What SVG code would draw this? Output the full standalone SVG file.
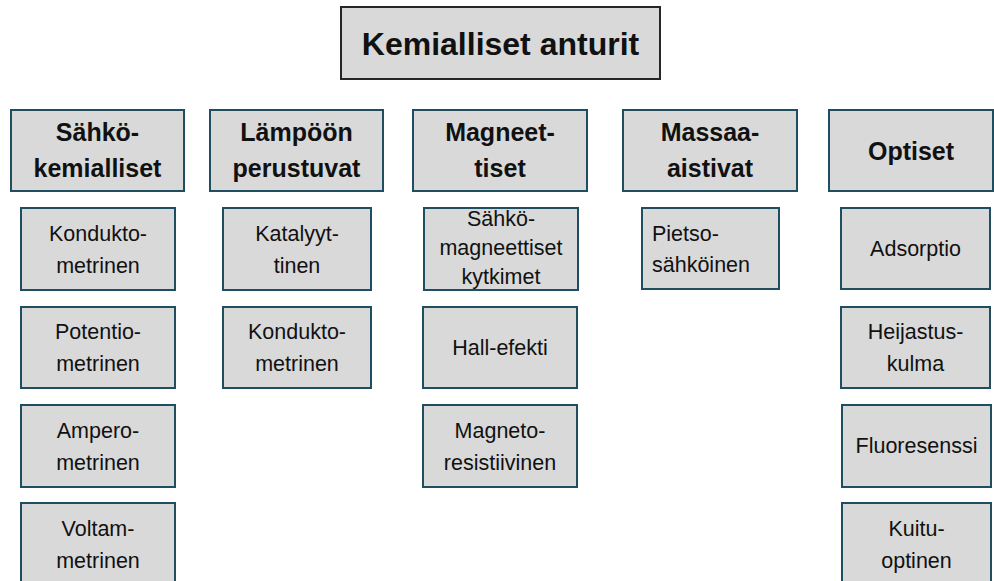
<svg xmlns="http://www.w3.org/2000/svg" width="994" height="581" viewBox="0 0 994 581">
<style>
  .bg { fill: #ffffff; }
  .box { fill: #d9d9d9; stroke: #1f4e60; stroke-width: 2; }
  .tbox { fill: #d9d9d9; stroke: #262626; stroke-width: 2; }
  text { font-family: "Liberation Sans", Arial, sans-serif; fill: #111111; }
  .title { font-size: 32px; font-weight: bold; text-anchor: middle; }
  .cat { font-size: 25px; font-weight: bold; text-anchor: middle; }
  .item { font-size: 21.5px; text-anchor: middle; }
  .iteml { font-size: 21.5px; text-anchor: start; }
</style>
<rect class="bg" x="0" y="0" width="994" height="581"/>
<g id="connectors"></g>
<g id="root">
  <rect class="tbox" x="341" y="7" width="319" height="72"/>
  <text class="title" x="500.5" y="55">Kemialliset anturit</text>
</g>
<g id="cat-sahkokemialliset">
  <rect class="box" x="11" y="110" width="173" height="81"/>
  <text class="cat" x="97.5" y="141">Sähkö-</text>
  <text class="cat" x="97.5" y="177">kemialliset</text>
</g>
<g id="cat-lampoon">
  <rect class="box" x="210" y="110" width="173" height="81"/>
  <text class="cat" x="296.5" y="141">Lämpöön</text>
  <text class="cat" x="296.5" y="177">perustuvat</text>
</g>
<g id="cat-magneettiset">
  <rect class="box" x="413" y="110" width="174" height="81"/>
  <text class="cat" x="500" y="141">Magneet-</text>
  <text class="cat" x="500" y="177">tiset</text>
</g>
<g id="cat-massaaistivat">
  <rect class="box" x="623" y="110" width="174" height="81"/>
  <text class="cat" x="710" y="141">Massaa-</text>
  <text class="cat" x="710" y="177">aistivat</text>
</g>
<g id="cat-optiset">
  <rect class="box" x="829" y="110" width="164" height="81"/>
  <text class="cat" x="911" y="160">Optiset</text>
</g>
<g id="konduktometrinen1">
  <rect class="box" x="21" y="208" width="154" height="82"/>
  <text class="item" x="98" y="241">Kondukto-</text>
  <text class="item" x="98" y="273">metrinen</text>
</g>
<g id="potentiometrinen">
  <rect class="box" x="21" y="307" width="154" height="81"/>
  <text class="item" x="98" y="339">Potentio-</text>
  <text class="item" x="98" y="371">metrinen</text>
</g>
<g id="amperometrinen">
  <rect class="box" x="21" y="405" width="154" height="82"/>
  <text class="item" x="98" y="438">Ampero-</text>
  <text class="item" x="98" y="470">metrinen</text>
</g>
<g id="voltammetrinen">
  <rect class="box" x="21" y="503" width="154" height="82"/>
  <text class="item" x="98" y="536">Voltam-</text>
  <text class="item" x="98" y="568">metrinen</text>
</g>
<g id="katalyyttinen">
  <rect class="box" x="223" y="208" width="148" height="82"/>
  <text class="item" x="297" y="241">Katalyyt-</text>
  <text class="item" x="297" y="273">tinen</text>
</g>
<g id="konduktometrinen2">
  <rect class="box" x="223" y="307" width="148" height="81"/>
  <text class="item" x="297" y="339">Kondukto-</text>
  <text class="item" x="297" y="371">metrinen</text>
</g>
<g id="sahkomagneettiset">
  <rect class="box" x="424" y="208" width="154" height="82"/>
  <text class="item" x="501" y="226">Sähkö-</text>
  <text class="item" x="501" y="255">magneettiset</text>
  <text class="item" x="501" y="284">kytkimet</text>
</g>
<g id="hall-efekti">
  <rect class="box" x="423" y="307" width="154" height="81"/>
  <text class="item" x="500" y="355">Hall-efekti</text>
</g>
<g id="magnetoresistiivinen">
  <rect class="box" x="423" y="405" width="154" height="82"/>
  <text class="item" x="500" y="438">Magneto-</text>
  <text class="item" x="500" y="470">resistiivinen</text>
</g>
<g id="pietsosahkoinen">
  <rect class="box" x="642" y="208" width="137" height="81"/>
  <text class="iteml" x="652" y="241">Pietso-</text>
  <text class="iteml" x="652" y="272">sähköinen</text>
</g>
<g id="adsorptio">
  <rect class="box" x="841" y="208" width="149" height="81"/>
  <text class="item" x="915.5" y="256">Adsorptio</text>
</g>
<g id="heijastuskulma">
  <rect class="box" x="841" y="307" width="149" height="81"/>
  <text class="item" x="915.5" y="339">Heijastus-</text>
  <text class="item" x="915.5" y="371">kulma</text>
</g>
<g id="fluoresenssi">
  <rect class="box" x="842" y="405" width="149" height="82"/>
  <text class="item" x="916.5" y="453">Fluoresenssi</text>
</g>
<g id="kuituoptinen">
  <rect class="box" x="842" y="503" width="149" height="82"/>
  <text class="item" x="916.5" y="536">Kuitu-</text>
  <text class="item" x="916.5" y="568">optinen</text>
</g>
</svg>
